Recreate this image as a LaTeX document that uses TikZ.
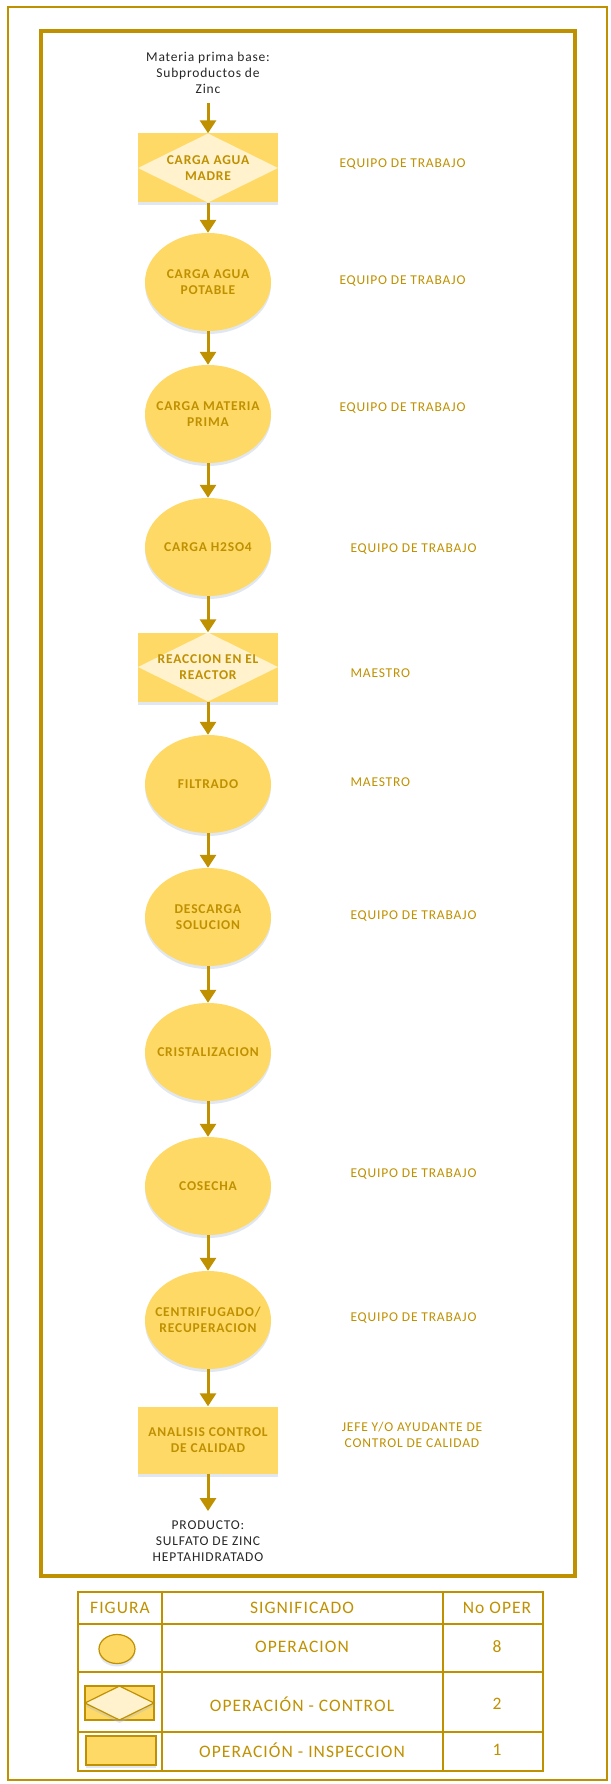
\documentclass[tikz,border=0pt]{standalone}
\usepackage{fontspec}
\setmainfont{Carlito}[LetterSpace=6]
\usetikzlibrary{arrows.meta,shapes.geometric,shadows}

\definecolor{oro}{HTML}{BF9000}
\definecolor{relleno}{HTML}{FFD966}
\definecolor{rombo}{HTML}{FFF2CC}
\definecolor{texto}{HTML}{262626}
\definecolor{sombra}{HTML}{A9BBD6}

\tikzset{
	sombreado/.style={drop shadow={shadow xshift=0pt, shadow yshift=-3pt, opacity=0.35, fill=sombra}},
	operacion/.style={ellipse, fill=relleno, minimum width=126pt, minimum height=98pt, inner xsep=-25pt, inner ysep=0pt,
		text=oro, font=\bfseries\fontsize{13.5}{16}\selectfont, align=center, sombreado},
	control/.style={rectangle, fill=relleno, minimum width=140pt, minimum height=69pt, inner sep=0pt,
		text=oro, font=\bfseries\fontsize{13.5}{16}\selectfont, align=center, sombreado,
		path picture={\fill[rombo] (path picture bounding box.west) -- (path picture bounding box.north)
			-- (path picture bounding box.east) -- (path picture bounding box.south) -- cycle;}},
	inspeccion/.style={rectangle, fill=relleno, minimum width=140pt, minimum height=67pt, inner sep=0pt,
		text=oro, font=\bfseries\fontsize{13.5}{16}\selectfont, align=center, sombreado},
	flecha/.style={draw=oro, line width=3pt, -{Triangle[width=16pt,length=13pt]}},
	responsable/.style={text=oro, font=\fontsize{13.5}{16}\selectfont, anchor=west},
	extremo/.style={text=texto, font=\fontsize{13.5}{16}\selectfont, align=center},
	tabla/.style={text=oro, font=\fontsize{17.5}{20}\selectfont}
}

\begin{document}
\begin{tikzpicture}[x=1pt, y=-1pt]
	\useasboundingbox (0,0) rectangle (610,1784);
	% marcos
	\draw[oro, line width=2.5pt] (8,7) rectangle (607,1780);
	\draw[oro, line width=4.5pt] (41,31) rectangle (575,1576);

	% diagrama
	\node[extremo] (materia) at (208,73) {Materia prima base:\\Subproductos de\\Zinc};
	\node[control] (aguamadre) at (208,168) {CARGA AGUA\\MADRE};
	\node[operacion] (aguapotable) at (208,282) {CARGA AGUA\\POTABLE};
	\node[operacion] (materiaprima) at (208,414) {CARGA MATERIA\\PRIMA};
	\node[operacion] (acido) at (208,547) {CARGA H2SO4};
	\node[control] (reaccion) at (208,667) {REACCION EN EL\\REACTOR};
	\node[operacion] (filtrado) at (208,784) {FILTRADO};
	\node[operacion] (descarga) at (208,917) {DESCARGA\\SOLUCION};
	\node[operacion] (cristal) at (208,1052) {CRISTALIZACION};
	\node[operacion] (cosecha) at (208,1186) {COSECHA};
	\node[operacion] (centrifugado) at (208,1320) {CENTRIFUGADO/\\RECUPERACION};
	\node[inspeccion] (analisis) at (208,1440) {ANALISIS CONTROL\\DE CALIDAD};
	\node[extremo] (producto) at (208,1541) {PRODUCTO:\\SULFATO DE ZINC\\HEPTAHIDRATADO};

	\draw[flecha, shorten <=6pt] (materia) -- (aguamadre);
	\draw[flecha] (aguamadre) -- (aguapotable);
	\draw[flecha] (aguapotable) -- (materiaprima);
	\draw[flecha] (materiaprima) -- (acido);
	\draw[flecha] (acido) -- (reaccion);
	\draw[flecha] (reaccion) -- (filtrado);
	\draw[flecha] (filtrado) -- (descarga);
	\draw[flecha] (descarga) -- (cristal);
	\draw[flecha] (cristal) -- (cosecha);
	\draw[flecha] (cosecha) -- (centrifugado);
	\draw[flecha] (centrifugado) -- (analisis);
	\draw[flecha, shorten >=6pt] (analisis) -- (producto);

	% responsables
	\node[responsable] (r1) at (336,164) {EQUIPO DE TRABAJO};
	\node[responsable] (r2) at (336,281) {EQUIPO DE TRABAJO};
	\node[responsable] (r3) at (336,408) {EQUIPO DE TRABAJO};
	\node[responsable] (r4) at (347,549) {EQUIPO DE TRABAJO};
	\node[responsable] (r5) at (347,673) {MAESTRO};
	\node[responsable] (r6) at (347,782) {MAESTRO};
	\node[responsable] (r7) at (347,916) {EQUIPO DE TRABAJO};
	\node[responsable] (r8) at (347,1174) {EQUIPO DE TRABAJO};
	\node[responsable] (r9) at (347,1318) {EQUIPO DE TRABAJO};
	\node[responsable, anchor=center, align=center] (r10) at (412,1435) {JEFE Y/O AYUDANTE DE\\CONTROL DE CALIDAD};

	% leyenda
	\draw[oro, line width=2pt] (78,1592) rectangle (543,1771);
	\draw[oro, line width=2pt] (78,1624) -- (543,1624) (78,1672) -- (543,1672) (78,1732) -- (543,1732);
	\draw[oro, line width=2pt] (162,1592) -- (162,1771) (443,1592) -- (443,1771);
	\node[tabla] (figura) at (120,1608) {FIGURA};
	\node[tabla] (significado) at (302,1608) {SIGNIFICADO};
	\node[tabla] (numero) at (497,1608) {No OPER};
	\filldraw[draw=oro, fill=relleno, line width=1.2pt, sombreado] (117,1649) ellipse (18 and 14.5);
	\node[tabla] (operacion) at (302,1647) {OPERACION};
	\node[tabla] (n1) at (497,1647) {8};
	\filldraw[draw=oro, fill=relleno, line width=1.2pt] (85,1686) rectangle (154,1720);
	\filldraw[draw=oro, fill=rombo, line width=1.2pt, sombreado] (85,1703) -- (119.5,1686) -- (154,1703) -- (119.5,1720) -- cycle;
	\node[tabla] (control) at (302,1704) {OPERACIÓN - CONTROL};
	\node[tabla] (n2) at (497,1704) {2};
	\filldraw[draw=oro, fill=relleno, line width=1.2pt, sombreado] (86,1736) rectangle (156,1765);
	\node[tabla] (inspeccion) at (302,1750) {OPERACIÓN - INSPECCION};
	\node[tabla] (n3) at (497,1750) {1};
\end{tikzpicture}
\end{document}
